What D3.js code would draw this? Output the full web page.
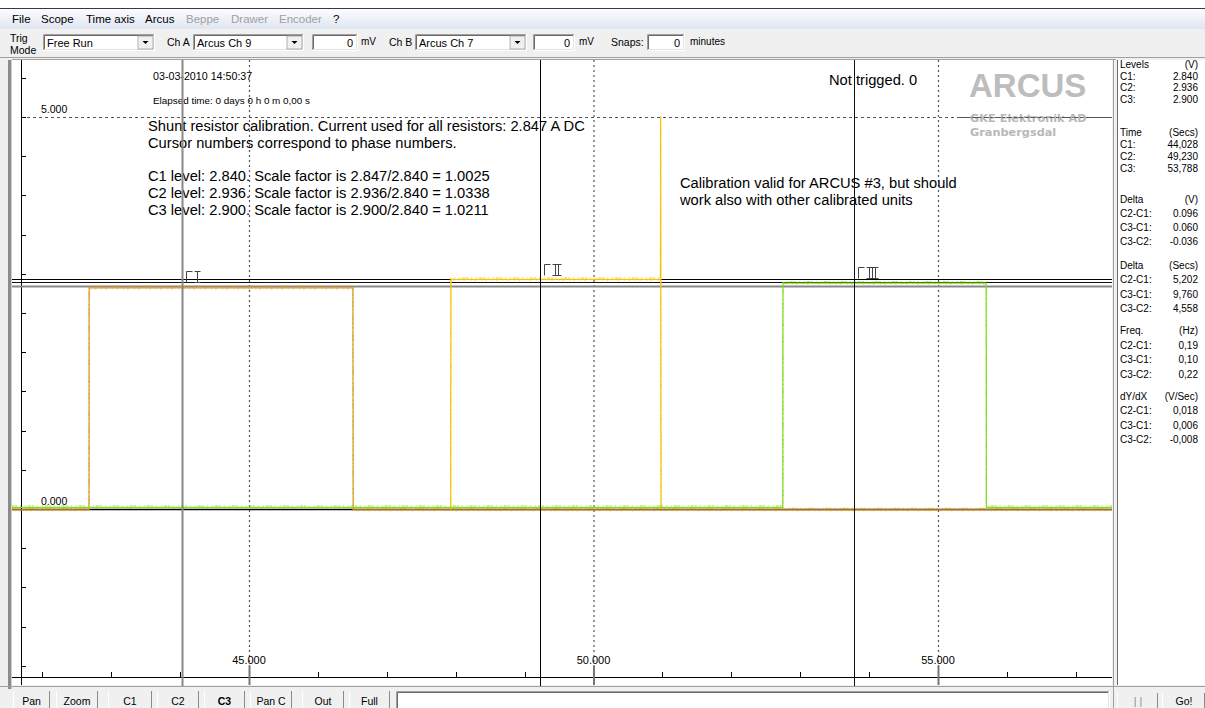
<!DOCTYPE html>
<html><head><meta charset="utf-8">
<script src="https://cdn.jsdelivr.net/npm/d3@7"></script>
<style>html,body{margin:0;padding:0;background:#f0f0f0;overflow:hidden}svg{display:block}</style>
</head><body><svg id="c" width="1205" height="708"></svg>
<script>
// ---------- data ----------
const menuItems = ["File","Scope","Time axis","Arcus","Beppe","Drawer","Encoder","?"];
const menuEnabled = [true,true,true,true,false,false,false,true];
const timeTicks = [45, 50, 55];
const timeTickLabels = ["45.000","50.000","55.000"];
const levelTicks = [5, 0];
const levelTickLabels = ["5.000","0.000"];
const cursorNumerals = [1, 2, 3];
const cursorTimes = [44.028, 49.230, 53.788];
const cursorLevels = [2.840, 2.936, 2.900];
// traces (time in s, value in V)
const orangeT = [41.5, 42.678, 42.680, 46.508, 46.512, 57.6];
const orangeV = [-0.01, -0.01, 2.82, 2.82, -0.01, -0.01];
const yellowT = [47.928, 47.930, 50.972, 50.974, 50.980];
const yellowV = [0, 2.93, 2.93, 5.0, 0];
const greenT = [41.5, 52.748, 52.750, 55.700, 55.702, 57.6];
const greenV = [0.02, 0.02, 2.88, 2.88, 0.02, 0.02];
// right panel
const levelRows = [["C1:","2.840"],["C2:","2.936"],["C3:","2.900"]];
const timeRows = [["C1:","44,028"],["C2:","49,230"],["C3:","53,788"]];
const deltaVRows = [["C2-C1:","0.096"],["C3-C1:","0.060"],["C3-C2:","-0.036"]];
const deltaSRows = [["C2-C1:","5,202"],["C3-C1:","9,760"],["C3-C2:","4,558"]];
const freqRows = [["C2-C1:","0,19"],["C3-C1:","0,10"],["C3-C2:","0,22"]];
const slopeRows = [["C2-C1:","0,018"],["C3-C1:","0,006"],["C3-C2:","-0,008"]];
const panelTitles = [["Levels","(V)"],["Time","(Secs)"],["Delta","(V)"],["Delta","(Secs)"],["Freq.","(Hz)"],["dY/dX","(V/Sec)"]];
// annotations
const noteLines = ["Shunt resistor calibration. Current used for all resistors: 2.847 A DC",
  "Cursor numbers correspond to phase numbers.", "",
  "C1 level: 2.840. Scale factor is 2.847/2.840 = 1.0025",
  "C2 level: 2.936. Scale factor is 2.936/2.840 = 1.0338",
  "C3 level: 2.900. Scale factor is 2.900/2.840 = 1.0211"];
const noteLines2 = ["Calibration valid for ARCUS #3, but should","work also with other calibrated units"];
const buttons = ["Pan","Zoom","C1","C2","C3","Pan C","Out","Full"];

// ---------- drawing ----------
const svg = d3.select("#c");
const F = "'Liberation Sans', Arial, sans-serif";
function txt(g, x, y, s, size, opt={}) {
  return g.append("text").attr("x", x).attr("y", y).text(s)
    .attr("font-family", opt.family || F).attr("font-size", size)
    .attr("fill", opt.fill || "#000").attr("text-anchor", opt.anchor || "start")
    .attr("font-weight", opt.weight || "normal");
}
function line(g, x1, y1, x2, y2, c, w, dash) {
  const l = g.append("line").attr("x1",x1).attr("y1",y1).attr("x2",x2).attr("y2",y2)
    .attr("stroke", c).attr("stroke-width", w);
  if (dash) l.attr("stroke-dasharray", dash);
  return l;
}
svg.append("rect").attr("width",1205).attr("height",708).attr("fill","#f0f0f0");
// top window strip + menu
svg.append("rect").attr("width",1205).attr("height",8).attr("fill","#fff");
line(svg,0,8.5,1205,8.5,"#3a3a3a",1);
const grad = svg.append("defs").append("linearGradient").attr("id","mg").attr("x1",0).attr("y1",0).attr("x2",0).attr("y2",1);
grad.append("stop").attr("offset","0").attr("stop-color","#fbfcfe");
grad.append("stop").attr("offset","1").attr("stop-color","#dfe6f1");
svg.append("rect").attr("y",9).attr("width",1205).attr("height",20).attr("fill","url(#mg)");
const menuX = [12, 41, 86, 145, 186, 231, 279, 333];
menuItems.forEach((m,i)=> txt(svg, menuX[i], 23, m, 11.5, {fill: menuEnabled[i] ? "#000" : "#a0a0a0"}));

// toolbar
function sunken(x,y,w,h){
  svg.append("rect").attr("x",x).attr("y",y).attr("width",w).attr("height",h).attr("fill","#fff");
  svg.append("path").attr("d",`M${x+0.5},${y+h}V${y+0.5}H${x+w}`).attr("stroke","#a0a0a0").attr("fill","none");
  svg.append("path").attr("d",`M${x+1.5},${y+h-1}V${y+1.5}H${x+w-1}`).attr("stroke","#696969").attr("fill","none");
  svg.append("path").attr("d",`M${x},${y+h-0.5}H${x+w-0.5}V${y}`).attr("stroke","#fff").attr("fill","none");
  svg.append("path").attr("d",`M${x+1},${y+h-1.5}H${x+w-1.5}V${y+1}`).attr("stroke","#e3e3e3").attr("fill","none");
}
function combo(x,w,label){
  const y=34,h=17;
  sunken(x,y,w,h);
  txt(svg,x+4,y+12.5,label,11);
  const bx=x+w-17;
  svg.append("rect").attr("x",bx).attr("y",y+2).attr("width",15).attr("height",h-4).attr("fill","#f0f0f0")
    .attr("stroke","#a0a0a0").attr("stroke-width",0.8);
  svg.append("path").attr("d",`M${bx+4.5},${y+7}h6l-3,3z`).attr("fill","#000");
}
function numbox(x,w){
  sunken(x,34,w,17);
  txt(svg,x+w-5,46.5,"0",11,{anchor:"end"});
}
txt(svg,10,42,"Trig",10.5); txt(svg,10,54,"Mode",10.5);
combo(43,112,"Free Run");
txt(svg,167,46,"Ch A",10.5);
combo(193,111,"Arcus Ch 9");
numbox(312,46); txt(svg,361,45,"mV",10);
txt(svg,389,46,"Ch B",10.5);
combo(415,112,"Arcus Ch 7");
numbox(533,42); txt(svg,579,45,"mV",10);
txt(svg,611,46,"Snaps:",10.5);
numbox(647,38); txt(svg,690,45,"minutes",10);
line(svg,0,57.5,1205,57.5,"#a0a0a0",1);

// ---------- plot ----------
const PL=12, PR=1112, PT=60, PB=685;
const x = d3.scaleLinear().domain([45,55]).range([249,938]);
const y = d3.scaleLinear().domain([0,5]).range([509,117]);
svg.append("rect").attr("x",PL).attr("y",PT).attr("width",PR-PL).attr("height",PB-PT).attr("fill","#fff");
line(svg,PL,59.5,PR+4,59.5,"#a0a0a0",1);
svg.append("rect").attr("x",8).attr("y",PT).attr("width",3).attr("height",PB-PT+4).attr("fill","#8c8c8c");
line(svg,11.5,PT,11.5,PB+4,"#d0d0d0",1);
svg.append("defs").append("clipPath").attr("id","pc").append("rect")
  .attr("x",PL).attr("y",PT).attr("width",PR-PL).attr("height",PB-PT);
const plot = svg.append("g").attr("clip-path","url(#pc)");

// dashed grid
timeTicks.forEach(t=> line(plot, x(t)+0.5, PT, x(t)+0.5, 668, "#555", 1.2, "2,3"));
levelTicks.filter(v=>v!==0).forEach(v=> line(plot, 21, y(v)+0.5, PR, y(v)+0.5, "#555", 1.2, "3,3"));

// left axis
line(plot, 21.5, PT, 21.5, PB, "#000", 1);
d3.range(-2, 5.51, 0.5).forEach(v=> line(plot, 21, Math.round(y(v))+0.5, 26, Math.round(y(v))+0.5, "#000", 1));
levelTicks.forEach((v,i)=> txt(plot, 41, y(v)-4.5, levelTickLabels[i], 10.5));
// bottom axis
line(plot, PL, 677.5, PR, 677.5, "#000", 1);
d3.range(42, 57.6, 1).forEach(t=>{ if(!timeTicks.includes(t)) line(plot, Math.round(x(t))+0.5, 672, Math.round(x(t))+0.5, 677, "#000", 1); });
timeTicks.forEach((t,i)=>{ line(plot, x(t)+0.5, 666, x(t)+0.5, PB, "#777", 2); txt(plot, x(t), 664, timeTickLabels[i], 11, {anchor:"middle"}); });

// zero line
line(plot, PL, y(0)+0.5, PR, y(0)+0.5, "#000", 1.5);

// header text
txt(plot,153,80,"03-03-2010  14:50:37",10.7);
txt(plot,153,104,"Elapsed time: 0 days 0 h 0 m 0,00 s",9.9);
noteLines.forEach((s,i)=> txt(plot,148,131+i*16.8,s,14.7));
noteLines2.forEach((s,i)=> txt(plot,680,188+i*17,s,14.7));
txt(plot,829,85,"Not trigged. 0",14.7);
// logo
txt(plot,969,97,"ARCUS",33,{weight:"bold",fill:"#bdbdbd"});
txt(plot,970,122,"GKE Elektronik AD",11.3,{weight:"bold",fill:"#b8b8b8",family:"'DejaVu Sans', Verdana, sans-serif"});
txt(plot,970,136,"Granbergsdal",11.3,{weight:"bold",fill:"#b8b8b8",family:"'DejaVu Sans', Verdana, sans-serif"});
line(plot, 960, y(5)+0.5, PR, y(5)+0.5, "#555", 1.2, "3,3");

// cursors (level lines below traces)
const cColor = ["#888","#000","#111"];
const cWidth = [2,1,1];
cursorLevels.forEach((v,i)=> line(plot, PL, Math.round(y(v))+0.5, PR, Math.round(y(v))+0.5, cColor[i], cWidth[i]));

// traces
const lg = d3.line().x(d=>x(d[0])).y(d=>y(d[1]));
function trace(T,V,color){
  const pts = T.map((t,i)=>[t,V[i]]);
  plot.append("path").attr("d",lg(pts)).attr("fill","none").attr("stroke",color).attr("stroke-width",1.2);
  plot.append("path").attr("d",lg(pts)).attr("fill","none").attr("stroke",color).attr("stroke-width",1.2)
    .attr("stroke-opacity",0.65).attr("stroke-dasharray","1,2,3,1,2,3,1,4").attr("transform","translate(0,-1.5)");
  plot.append("path").attr("d",lg(pts)).attr("fill","none").attr("stroke",color).attr("stroke-width",1)
    .attr("stroke-opacity",0.5).attr("stroke-dasharray","2,5,1,3").attr("transform","translate(0,1)");
}
trace(orangeT, orangeV, "#dc9a24");
trace(yellowT, yellowV, "#f7c400");
trace(greenT, greenV, "#86dc1e");

cursorTimes.forEach((t,i)=> line(svg, Math.round(x(t))+0.5, PT, Math.round(x(t))+0.5, PB+2, cColor[i], cWidth[i]));
cursorNumerals.forEach((n,i)=>{
  const cx = Math.round(x(cursorTimes[i]))+4.5, by = Math.round(y(cursorLevels[i]))-3.5, h=11;
  let d = `M${cx},${by}V${by-h}H${cx+6}`;
  const nx = cx+8, w = 6 + (n-1)*3;
  d += `M${nx},${by-h}h${w}M${nx},${by}h${w}`;
  for(let k=0;k<n;k++) d += `M${nx+3+k*3},${by-h}V${by}`;
  plot.append("path").attr("d",d).attr("fill","none").attr("stroke","#444").attr("stroke-width",1);
});

// ---------- right panel ----------
svg.append("rect").attr("x",1117).attr("y",PT).attr("width",88).attr("height",PB-PT).attr("fill","#fff");
line(svg,1113.5,PT,1113.5,PB+4,"#a0a0a0",1);
line(svg,1117.5,PT,1117.5,PB,"#696969",1);
const sections = [levelRows,timeRows,deltaVRows,deltaSRows,freqRows,slopeRows];
const secTop = [68,136,203,269,334,400];
const secStep = [11.7,12,14,14.3,14.5,14.3];
sections.forEach((rows,si)=>{
  txt(svg,1120,secTop[si],panelTitles[si][0],10);
  txt(svg,1198,secTop[si],panelTitles[si][1],10,{anchor:"end"});
  rows.forEach((r,ri)=>{
    const yy = secTop[si] + (ri+1)*secStep[si];
    txt(svg,1120,yy,r[0],10);
    txt(svg,1198,yy,r[1],10,{anchor:"end"});
  });
});

// ---------- bottom bar ----------
line(svg,0,686.5,1205,686.5,"#a0a0a0",1);
const bx = [13,56,108,157,204,250,302,349], bw = [37,42,44,42,41,42,42,41];
buttons.forEach((b,i)=>{
  svg.append("rect").attr("x",bx[i]).attr("y",691).attr("width",bw[i]).attr("height",17).attr("fill","#f0f0f0");
  line(svg,bx[i]+bw[i]-0.5,691,bx[i]+bw[i]-0.5,708,"#8a8a8a",1);
  line(svg,bx[i]+0.5,691,bx[i]+0.5,708,"#fff",1);
  txt(svg,bx[i]+bw[i]/2,705,b,10.5,{anchor:"middle",weight: b==="C3"?"bold":"normal"});
});
sunken(396,691,714,20);
[[1118,40,"| |"],[1163,42,"Go!"]].forEach(([bx2,w,s])=>{
  line(svg,bx2-0.5,693,bx2-0.5,708,"#fff",1);
  line(svg,bx2+w-0.5,693,bx2+w-0.5,708,"#8a8a8a",1);
  txt(svg,bx2+w/2,705,s,10.5,{anchor:"middle",fill: s==="| |"?"#8a8a8a":"#000"});
});
line(svg,1113.5,686,1113.5,708,"#a0a0a0",1);
</script></body></html>
